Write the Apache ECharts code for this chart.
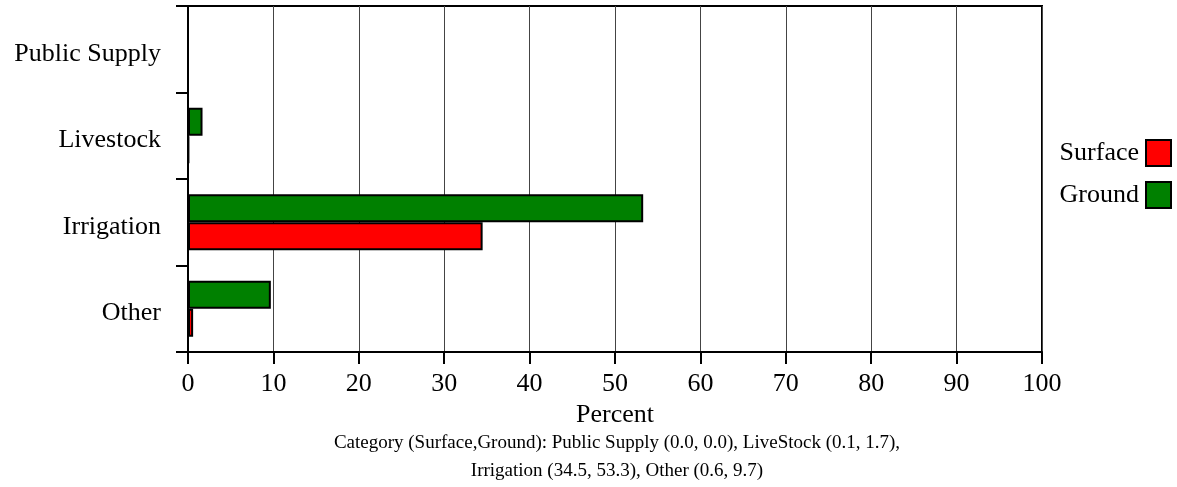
<!DOCTYPE html>
<html>
<head>
<meta charset="utf-8">
<script src="https://cdn.jsdelivr.net/npm/echarts@6/dist/echarts.min.js"></script>
<style>
  html, body { margin: 0; padding: 0; background: #fff; }
  #chart { width: 1177px; height: 487px; }
</style>
</head>
<body>
<div id="chart"></div>
<script>
"use strict";

// Water use categories, top to bottom as drawn
const categories = ["Public Supply", "Livestock", "Irrigation", "Other"];
const surfaceValues = [0.0, 0.1, 34.5, 0.6];
const groundValues = [0.0, 1.7, 53.3, 9.7];
const xTicks = { min: 0, max: 100, interval: 10 };
const caption = [
  "Category (Surface,Ground): Public Supply (0.0, 0.0), LiveStock (0.1, 1.7),",
  "Irrigation (34.5, 53.3), Other (0.6, 9.7)",
];

const FONT = "'Liberation Serif', 'DejaVu Serif', serif";

const chart = echarts.init(document.getElementById("chart"), null, { renderer: "canvas" });

chart.setOption({
  animation: false,
  backgroundColor: "#ffffff",
  textStyle: { fontFamily: FONT, color: "#000" },
  grid: {
    left: 188, right: 135, top: 6, height: 346,
    show: true, borderColor: "#000", borderWidth: 2,
    containLabel: false,
  },
  title: {
    text: caption.join("\n"),
    left: 612, top: 424, textAlign: "center",
    textStyle: { fontFamily: FONT, fontSize: 19, fontWeight: "normal", color: "#000", lineHeight: 28 },
  },
  legend: {
    orient: "vertical", right: 0, top: 134,
    align: "right", icon: "rect", itemWidth: 25, itemHeight: 26, itemGap: 14,
    data: ["Surface", "Ground"],
    textStyle: { fontFamily: FONT, fontSize: 26, color: "#000", padding: [0, 2, 0, 0] },
  },
  xAxis: {
    type: "value",
    min: xTicks.min, max: xTicks.max, interval: xTicks.interval,
    name: "Percent", nameLocation: "middle", nameGap: 42,
    nameTextStyle: { fontFamily: FONT, fontSize: 26, color: "#000" },
    axisLine: { show: true, lineStyle: { color: "#000", width: 2 } },
    axisTick: { show: true, length: 12, lineStyle: { color: "#000", width: 2 } },
    axisLabel: { fontFamily: FONT, fontSize: 26, color: "#000", margin: 19 },
    splitLine: { show: true, lineStyle: { color: "#444", width: 1 } },
  },
  yAxis: {
    type: "category",
    data: categories,
    inverse: true,
    axisLine: { show: true, lineStyle: { color: "#000", width: 2 } },
    axisTick: { show: true, length: 12, lineStyle: { color: "#000", width: 2 } },
    axisLabel: {
      margin: 27,
      formatter: "{c|{value}}",
      rich: { c: { fontFamily: FONT, fontSize: 26, color: "#000", padding: [9, 0, 0, 0] } },
    },
    splitLine: { show: false },
  },
  series: [
    {
      name: "Ground", type: "bar", data: groundValues,
      barWidth: 28, barGap: "0%",
      itemStyle: { color: "#008000", borderColor: "#000", borderWidth: 2 },
    },
    {
      name: "Surface", type: "bar", data: surfaceValues,
      barWidth: 28, barGap: "0%",
      itemStyle: { color: "#ff0000", borderColor: "#000", borderWidth: 2 },
    },
  ],
});
</script>
</body>
</html>
